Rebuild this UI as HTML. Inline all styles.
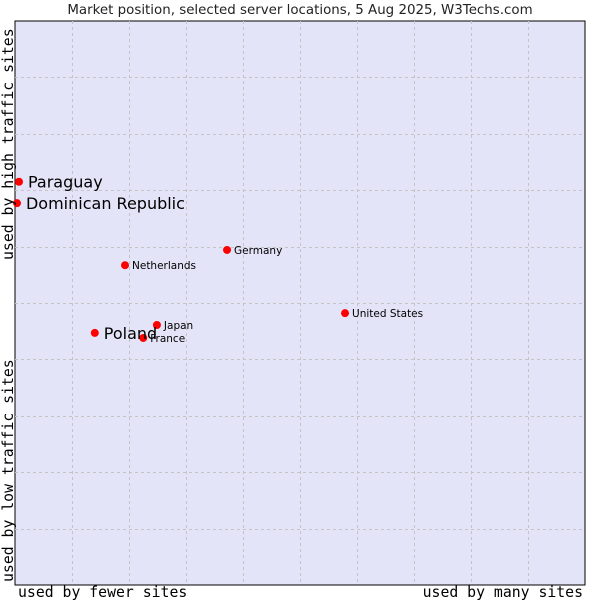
<!DOCTYPE html>
<html><head><meta charset="utf-8"><style>
body{margin:0;background:#fff;width:600px;height:600px;overflow:hidden}
svg{display:block}
</style></head><body>
<svg width="600" height="600">
<rect x="0" y="0" width="600" height="600" fill="#fff"/>
<text x="300" y="14" text-anchor="middle" font-family="DejaVu Sans, sans-serif" font-size="13.4" fill="#222">Market position, selected server locations, 5 Aug 2025, W3Techs.com</text>
<rect x="15" y="21" width="570" height="564" fill="#e4e4f8" stroke="#000" stroke-width="1"/>
<g id="grid"></g>
<g id="marks"></g>
<text x="18" y="597" font-family="DejaVu Sans Mono, monospace" font-size="14.8" fill="#000">used by fewer sites</text>
<text x="583" y="597" text-anchor="end" font-family="DejaVu Sans Mono, monospace" font-size="14.8" fill="#000">used by many sites</text>
<text transform="translate(13,582) rotate(-90)" font-family="DejaVu Sans Mono, monospace" font-size="14.8" fill="#000">used by low traffic sites</text>
<text transform="translate(13,260) rotate(-90)" font-family="DejaVu Sans Mono, monospace" font-size="14.8" fill="#000">used by high traffic sites</text>
</svg>
<script>
const countries=["Paraguay","Dominican Republic","Netherlands","Germany","United States","Japan","France","Poland"];
const xValues=[0.7,0.35,19.3,37.2,57.9,24.9,22.5,14.0];
const yValues=[71.5,67.7,56.7,59.4,48.2,46.1,43.8,44.7];
const highlighted=[true,true,false,false,false,false,false,true];
const L=15,T=21,W=570,H=564;
function sx(v){return L+v/100*W;}
function sy(v){return T+H-v/100*H;}
const ns="http://www.w3.org/2000/svg";
const g=document.getElementById('grid');
for(let i=1;i<10;i++){
  const lx=document.createElementNS(ns,'line');
  
  
  const x=Math.round(sx(i*10))+0.5;
  lx.setAttribute('x1',x);lx.setAttribute('x2',x);lx.setAttribute('y1',T);lx.setAttribute('y2',T+H);
  lx.setAttribute('stroke','#c4c4c4');lx.setAttribute('stroke-dasharray','3,3');
  g.appendChild(lx);
  const ly=document.createElementNS(ns,'line');
  
  
  const y=Math.round(sy(i*10))+0.5;
  ly.setAttribute('x1',L);ly.setAttribute('x2',L+W);ly.setAttribute('y1',y);ly.setAttribute('y2',y);
  ly.setAttribute('stroke','#c4c4c4');ly.setAttribute('stroke-dasharray','3,3');
  g.appendChild(ly);
}
const m=document.getElementById('marks');
countries.forEach((c,i)=>{
  const x=sx(xValues[i]),y=sy(yValues[i]);
  const p=document.createElementNS(ns,'circle');
  
  
  p.setAttribute('cx',x);p.setAttribute('cy',y);p.setAttribute('r',4);p.setAttribute('fill','#f00');
  m.appendChild(p);
  const t=document.createElementNS(ns,'text');
  
  
  const big=highlighted[i];
  t.setAttribute('x',x+(big?9:7));t.setAttribute('y',y+(big?6:4));
  t.setAttribute('font-family','DejaVu Sans, sans-serif');
  t.setAttribute('font-size',big?16:10.5);t.setAttribute('fill','#000');
  t.textContent=c;
  m.appendChild(t);
});
</script>
</body></html>
